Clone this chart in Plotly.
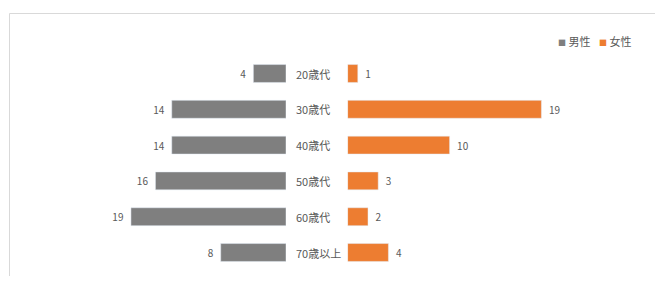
import plotly.graph_objects as go
from plotly.subplots import make_subplots

categories = ["20歳代", "30歳代", "40歳代", "50歳代", "60歳代", "70歳以上"]
male = [4, 14, 14, 16, 19, 8]
female = [1, 19, 10, 3, 2, 4]
series_names = ["男性", "女性"]
colors = ["#7f7f7f", "#ed7d31"]

# page has an 8px body margin: figure is placed at (8, 8)
OFF = 8
W, H = 663 - 2 * OFF, 284 - 2 * OFF
FONT = "Noto Sans CJK JP"
TXT = "#595959"
NB = "\u00a0"


def px(x):
    return (x - OFF) / W


def py(y):
    return (H - (y - OFF)) / H


fig = make_subplots(rows=1, cols=2, shared_yaxes=False, horizontal_spacing=0)

fig.add_trace(go.Bar(
    y=categories, x=male, orientation="h", name=series_names[0],
    marker=dict(color=colors[0]), texttemplate="%{x}" + NB * 2,
    textposition="outside",
    textfont=dict(size=10, color=TXT, family=FONT), cliponaxis=False,
    hoverinfo="skip"), row=1, col=1)
fig.add_trace(go.Bar(
    y=categories, x=female, orientation="h", name=series_names[1],
    marker=dict(color=colors[1]), texttemplate=NB * 2 + "%{x}",
    textposition="outside",
    textfont=dict(size=10, color=TXT, family=FONT), cliponaxis=False,
    hoverinfo="skip"), row=1, col=2)

# pixel geometry (page coordinates)
left_x0, left_x1 = 40, 286
male_ppu = 8.16
right_x0, right_x1 = 347.6, 650
female_ppu = 10.2
y_top, y_bot = 55.6, 270.4

fig.update_xaxes(domain=[px(left_x0), px(left_x1)],
                 range=[(left_x1 - left_x0) / male_ppu, 0],
                 visible=False, row=1, col=1)
fig.update_xaxes(domain=[px(right_x0), px(right_x1)],
                 range=[0, (right_x1 - right_x0) / female_ppu],
                 visible=False, row=1, col=2)
ydom = [py(y_bot), py(y_top)]
fig.update_yaxes(domain=ydom, autorange="reversed", visible=False,
                 categoryorder="array", categoryarray=categories, row=1, col=1)
fig.update_yaxes(domain=ydom, autorange="reversed", visible=False,
                 categoryorder="array", categoryarray=categories, row=1, col=2)

for c in categories:
    fig.add_annotation(x=px(294), xref="paper", y=c, yref="y", text=c,
                       showarrow=False, xanchor="left", yanchor="middle",
                       font=dict(size=11, color=TXT, family=FONT))

# legend built from series names / colours
leg_x = [556, 597]
for name, col, lx in zip(series_names, colors, leg_x):
    fig.add_annotation(
        x=px(lx), xref="paper", y=py(41), yref="paper",
        text=f"<span style='color:{col};font-size:8px'>■</span>{NB}{name}",
        showarrow=False, xanchor="left", yanchor="middle",
        font=dict(size=11, color=TXT, family=FONT))

fig.add_shape(type="rect", xref="paper", yref="paper",
              x0=px(9.5), x1=1.1, y0=-0.1, y1=py(13.5),
              line=dict(color="#d9d9d9", width=1), layer="below")

fig.update_layout(
    width=W, height=H,
    margin=dict(l=0, r=0, t=0, b=0),
    paper_bgcolor="white", plot_bgcolor="white",
    bargap=0.5,
    showlegend=False,
    font=dict(family=FONT, color=TXT),
)

fig.write_html("out.html")
